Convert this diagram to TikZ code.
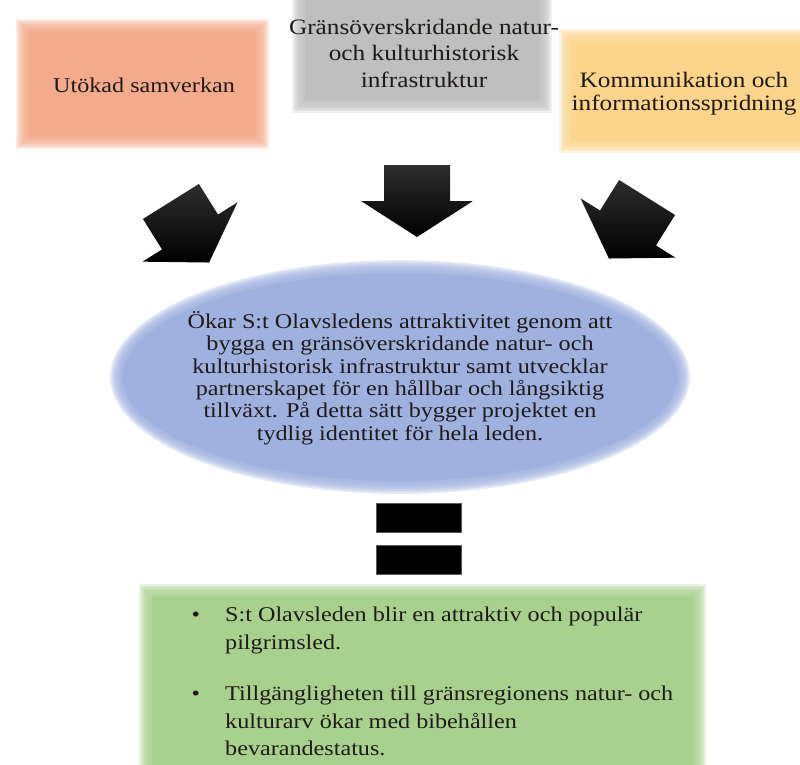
\documentclass[tikz,border=0pt]{standalone}
\usepackage{fontspec}
\setmainfont{Liberation Serif}[FakeStretch=1.15]
\usetikzlibrary{positioning}
\definecolor{boxorange}{HTML}{F3AB8C}
\definecolor{boxgray}{HTML}{BFBFBF}
\definecolor{boxyellow}{HTML}{FCD48B}
\definecolor{ellblue}{HTML}{9FB1DE}
\definecolor{boxgreen}{HTML}{A9D18E}
\definecolor{txt}{HTML}{1E1A18}

\begin{document}
\begin{tikzpicture}[x=1pt,y=-1pt,
  lbl/.style={text=txt,inner sep=0pt,align=center},
  punkt/.style={text=txt,inner sep=0pt,align=left,anchor=north west,font=\fontsize{21}{27.5}\selectfont},
  eqbar/.style={fill=black,draw=black!65,minimum width=85pt,minimum height=29pt,inner sep=0pt}]
\useasboundingbox (0,0) rectangle (800,765);
\newcommand{\softbox}[5]{
  \foreach \k in {0,...,7}
    \fill[#1,opacity=.25] ({#2+\k*1.6},{#3+\k*1.6}) rectangle ({#4-\k*1.6},{#5-\k*1.6});
  \fill[#1] ({#2+13},{#3+13}) rectangle ({#4-13},{#5-13});
}
\newcommand{\blockarrow}[4]{
  \coordinate (#1) at (#2,#3);
  \begin{scope}[shift={(#1)},rotate=#4]
    \shade[bottom color=black,top color=black!82] (-36,-33) -- (0,-33) -- (0,-56) -- (36,0) -- (0,56) -- (0,33) -- (-36,33) -- cycle;
  \end{scope}
}

% soft coloured fields
\softbox{boxorange}{16}{19}{269}{149}
\softbox{boxgray}{292}{-20}{552}{113}
\softbox{boxyellow}{559}{29}{830}{153}
\softbox{boxgreen}{139}{584}{706}{790}
\foreach \k in {0,...,7}
  \fill[ellblue,opacity=.25] (400,377) ellipse ({290-\k*1.6} and {117-\k*1.6});
\fill[ellblue] (400,377) ellipse (277 and 104);

% top row
\node[lbl,font=\fontsize{21}{25}\selectfont] (samverkan) at (144,85) {Utökad samverkan};
\node[lbl,font=\fontsize{22}{26.5}\selectfont] (infra) at (424,53) {Gränsöverskridande natur-\\och kulturhistorisk\\infrastruktur};
\node[lbl,font=\fontsize{22}{22.7}\selectfont] (komm) at (684,94) {Kommunikation och\\informationsspridning};

% block arrows
\blockarrow{pilv}{190}{232}{-58}
\blockarrow{pilm}{417}{201}{-90}
\blockarrow{pilh}{628}{228}{-122}

% centre
\node[lbl,font=\fontsize{21}{22.4}\selectfont] (mal) at (400,378) {Ökar S:t Olavsledens attraktivitet genom att\\bygga en gränsöverskridande natur- och\\kulturhistorisk infrastruktur samt utvecklar\\partnerskapet för en hållbar och långsiktig\\tillväxt. På detta sätt bygger projektet en\\tydlig identitet för hela leden.};

% equals sign
\node[eqbar] (eqa) at (418.5,518) {};
\node[eqbar,below=12pt of eqa] (eqb) {};

% result
\node[punkt] (punkt1) at (225,607) {\llap{\textbullet\hspace{25pt}}S:t Olavsleden blir en attraktiv och populär\\pilgrimsled.};
\node[punkt] (punkt2) at ([yshift=-32pt]punkt1.south west) {\llap{\textbullet\hspace{25pt}}Tillgängligheten till gränsregionens natur- och\\kulturarv ökar med bibehållen\\bevarandestatus.};
\end{tikzpicture}
\end{document}
